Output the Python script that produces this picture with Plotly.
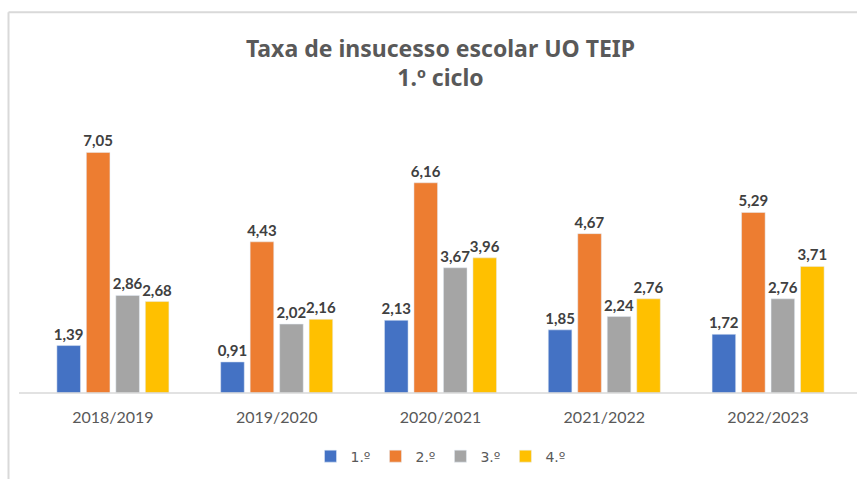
import plotly.graph_objects as go

categories = ["2018/2019", "2019/2020", "2020/2021", "2021/2022", "2022/2023"]
series_names = ["1.º", "2.º", "3.º", "4.º"]
s1 = [1.39, 0.91, 2.13, 1.85, 1.72]
s2 = [7.05, 4.43, 6.16, 4.67, 5.29]
s3 = [2.86, 2.02, 3.67, 2.24, 2.76]
s4 = [2.68, 2.16, 3.96, 2.76, 3.71]
colors = ["#4472C4", "#ED7D31", "#A5A5A5", "#FFC000"]

W, H = 857, 479
ml, mr, mt, mb = 31, 7, 120, 84
pw, ph = W - ml - mr, H - mt - mb

fig = go.Figure()
for name, vals, c in zip(series_names, [s1, s2, s3, s4], colors):
    fig.add_trace(go.Bar(
        x=categories, y=vals, name=name, marker_color=c,
        texttemplate="%{y:.2f}", textposition="outside", cliponaxis=False,
        constraintext="none",
        textfont=dict(family="Lato", size=15, color="#404040", weight="bold"),
    ))

def px_x(p):
    return (p - ml) / pw

def px_y(p):
    return (H - mb - p) / ph

shapes = [
    dict(type="line", xref="paper", yref="paper", x0=px_x(8.5), x1=px_x(W + 5),
         y0=px_y(11.5), y1=px_y(11.5), line=dict(color="#D9D9D9", width=2)),
    dict(type="line", xref="paper", yref="paper", x0=px_x(8.5), x1=px_x(8.5),
         y0=px_y(11.5), y1=px_y(H + 5), line=dict(color="#D9D9D9", width=2)),
    dict(type="line", xref="paper", yref="paper", x0=px_x(19), x1=px_x(W),
         y0=0, y1=0, line=dict(color="#D9D9D9", width=1.5)),
]

fig.update_layout(
    width=W, height=H,
    margin=dict(l=ml, r=mr, t=mt, b=mb),
    paper_bgcolor="white", plot_bgcolor="white",
    separators=",.",
    barmode="group", bargap=0.28, bargroupgap=0.2,
    title=dict(text="Taxa de insucesso escolar UO TEIP<br>1.º ciclo",
               x=0.5, xref="paper", xanchor="center",
               y=1 - 56.5 / H, yref="container", yanchor="middle",
               font=dict(family="Noto Sans", size=23, color="#595959", weight="bold")),
    xaxis=dict(showline=False, showgrid=False, ticks="outside", ticklen=10,
               tickcolor="rgba(0,0,0,0)",
               tickfont=dict(family="Lato", size=16, color="#595959")),
    yaxis=dict(range=[0, 8], visible=False, showgrid=False),
    legend=dict(orientation="h", x=0.5, xanchor="center", y=px_y(459), yanchor="middle",
                font=dict(family="DejaVu Sans", size=14, color="#595959"),
                itemwidth=30, traceorder="normal"),
    shapes=shapes,
    showlegend=True,
)

fig.write_html("out.html", post_script="document.body.style.margin='0';",
               config={"displayModeBar": False})
